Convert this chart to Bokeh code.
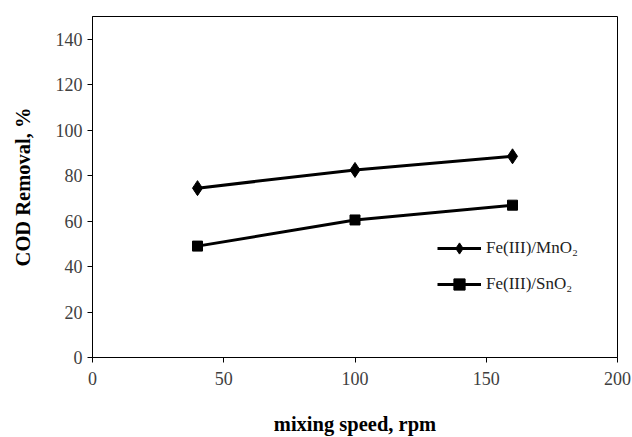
from bokeh.plotting import figure
from bokeh.models import FixedTicker, Range1d, Legend, LegendItem
from bokeh.embed import file_html
from bokeh.resources import INLINE

speed = [40, 100, 160]
mno2 = [74.5, 82.5, 88.5]
sno2 = [49, 60.5, 67]
x_ticks = [0, 50, 100, 150, 200]
y_ticks = [0, 20, 40, 60, 80, 100, 120, 140]
labels = ["Fe(III)/MnO\u2082", "Fe(III)/SnO\u2082"]

SERIF = "Liberation Serif"

p = figure(width=632, height=437, output_backend="svg", toolbar_location=None,
           x_range=Range1d(0, 200), y_range=Range1d(0, 150),
           min_border_left=92, min_border_right=15, min_border_top=16, min_border_bottom=80)
p.xgrid.visible = False
p.ygrid.visible = False
p.outline_line_color = "black"
p.outline_line_width = 1
p.background_fill_color = "white"
p.border_fill_color = "white"

for ax, ticks in ((p.xaxis[0], x_ticks), (p.yaxis[0], y_ticks)):
    ax.ticker = FixedTicker(ticks=ticks)
    ax.minor_tick_line_color = None
    ax.major_tick_in = 0
    ax.major_tick_out = 5
    ax.axis_line_color = "black"
    ax.major_tick_line_color = "black"
    ax.major_label_text_font = SERIF
    ax.major_label_text_font_size = "18px"
    ax.major_label_text_color = "#404040"
    ax.axis_label_text_font = SERIF
    ax.axis_label_text_font_style = "bold"
    ax.axis_label_text_font_size = "20.5px"
    ax.axis_label_text_color = "black"

p.xaxis.axis_label = "mixing speed, rpm"
p.yaxis.axis_label = "COD Removal, %"
p.xaxis.axis_label_standoff = 25
p.yaxis.axis_label_standoff = 19
p.yaxis.major_label_standoff = 5
p.xaxis.major_label_standoff = 9

l1 = p.line(speed, mno2, line_color="black", line_width=3)
m1 = p.scatter(speed, mno2, marker="diamond", size=15, fill_color="black", line_color="black")
l2 = p.line(speed, sno2, line_color="black", line_width=3)
m2 = p.scatter(speed, sno2, marker="square", size=10, fill_color="black", line_color="black")

legend = Legend(items=[LegendItem(label=labels[0], renderers=[l1, m1]),
                       LegendItem(label=labels[1], renderers=[l2, m2])],
                location=(345, 59), border_line_color=None, background_fill_alpha=0,
                label_text_font=SERIF, label_text_font_size="17px", label_text_color="#222222",
                glyph_width=44, glyph_height=28, spacing=8, padding=0, margin=0,
                label_standoff=5)
p.add_layout(legend, "center")

open("out.html", "w").write(file_html(p, INLINE))
